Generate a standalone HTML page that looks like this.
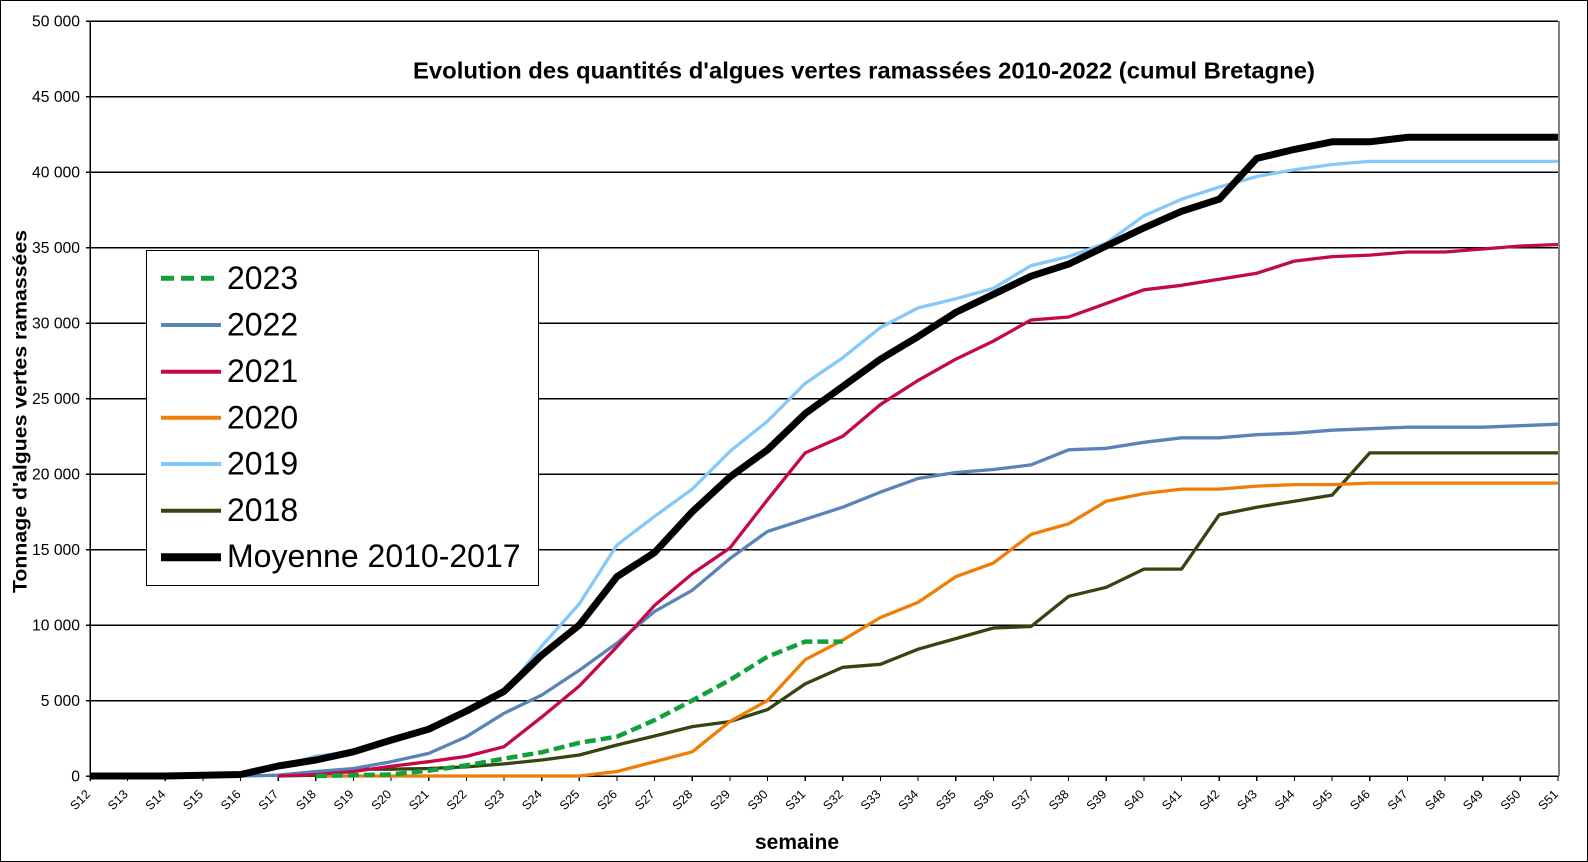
<!DOCTYPE html>
<html>
<head>
<meta charset="utf-8">
<style>
html,body{margin:0;padding:0;background:#fff;}
svg{display:block;}
text{font-family:"Liberation Sans",Arial,sans-serif;fill:#000;}
</style>
</head>
<body>
<svg width="1588" height="862" viewBox="0 0 1588 862" xmlns="http://www.w3.org/2000/svg">
<rect x="0.5" y="0.5" width="1587" height="861" fill="#fff" stroke="#000" stroke-width="1"/>

<!-- gridlines -->
<g stroke="#000" stroke-width="1.5" shape-rendering="crispEdges">
<line x1="86" y1="21" x2="1558" y2="21"/>
<line x1="86" y1="96.5" x2="1558" y2="96.5"/>
<line x1="86" y1="172" x2="1558" y2="172"/>
<line x1="86" y1="247.5" x2="1558" y2="247.5"/>
<line x1="86" y1="323" x2="1558" y2="323"/>
<line x1="86" y1="398.5" x2="1558" y2="398.5"/>
<line x1="86" y1="474" x2="1558" y2="474"/>
<line x1="86" y1="549.5" x2="1558" y2="549.5"/>
<line x1="86" y1="625" x2="1558" y2="625"/>
<line x1="86" y1="700.5" x2="1558" y2="700.5"/>
<line x1="86" y1="776" x2="1559" y2="776"/>
<line x1="90" y1="21" x2="90" y2="781"/>
</g>
<line x1="1559" y1="21" x2="1559" y2="776" stroke="#808080" stroke-width="2"/>

<!-- x ticks -->
<g stroke="#000" stroke-width="1.2" shape-rendering="crispEdges">
<line x1="127.64" y1="776" x2="127.64" y2="781"/><line x1="165.28" y1="776" x2="165.28" y2="781"/><line x1="202.92" y1="776" x2="202.92" y2="781"/><line x1="240.56" y1="776" x2="240.56" y2="781"/><line x1="278.2" y1="776" x2="278.2" y2="781"/><line x1="315.84" y1="776" x2="315.84" y2="781"/><line x1="353.48" y1="776" x2="353.48" y2="781"/><line x1="391.12" y1="776" x2="391.12" y2="781"/><line x1="428.76" y1="776" x2="428.76" y2="781"/><line x1="466.4" y1="776" x2="466.4" y2="781"/><line x1="504.04" y1="776" x2="504.04" y2="781"/><line x1="541.68" y1="776" x2="541.68" y2="781"/><line x1="579.32" y1="776" x2="579.32" y2="781"/><line x1="616.96" y1="776" x2="616.96" y2="781"/><line x1="654.6" y1="776" x2="654.6" y2="781"/><line x1="692.24" y1="776" x2="692.24" y2="781"/><line x1="729.88" y1="776" x2="729.88" y2="781"/><line x1="767.52" y1="776" x2="767.52" y2="781"/><line x1="805.16" y1="776" x2="805.16" y2="781"/><line x1="842.8" y1="776" x2="842.8" y2="781"/><line x1="880.44" y1="776" x2="880.44" y2="781"/><line x1="918.08" y1="776" x2="918.08" y2="781"/><line x1="955.72" y1="776" x2="955.72" y2="781"/><line x1="993.36" y1="776" x2="993.36" y2="781"/><line x1="1031" y1="776" x2="1031" y2="781"/><line x1="1068.64" y1="776" x2="1068.64" y2="781"/><line x1="1106.28" y1="776" x2="1106.28" y2="781"/><line x1="1143.92" y1="776" x2="1143.92" y2="781"/><line x1="1181.56" y1="776" x2="1181.56" y2="781"/><line x1="1219.2" y1="776" x2="1219.2" y2="781"/><line x1="1256.84" y1="776" x2="1256.84" y2="781"/><line x1="1294.48" y1="776" x2="1294.48" y2="781"/><line x1="1332.12" y1="776" x2="1332.12" y2="781"/><line x1="1369.76" y1="776" x2="1369.76" y2="781"/><line x1="1407.4" y1="776" x2="1407.4" y2="781"/><line x1="1445.04" y1="776" x2="1445.04" y2="781"/><line x1="1482.68" y1="776" x2="1482.68" y2="781"/><line x1="1520.32" y1="776" x2="1520.32" y2="781"/><line x1="1557.96" y1="776" x2="1557.96" y2="781"/>
</g>

<!-- y labels -->
<g font-size="15.7" text-anchor="end">
<text x="80" y="26.6">50 000</text>
<text x="80" y="102.1">45 000</text>
<text x="80" y="177.6">40 000</text>
<text x="80" y="253.1">35 000</text>
<text x="80" y="328.6">30 000</text>
<text x="80" y="404.1">25 000</text>
<text x="80" y="479.6">20 000</text>
<text x="80" y="555.1">15 000</text>
<text x="80" y="630.6">10 000</text>
<text x="80" y="706.1">5 000</text>
<text x="80" y="781.6">0</text>
</g>

<!-- x labels -->
<g font-size="12.5" text-anchor="end">
<text transform="translate(91,795) rotate(-45)">S12</text>
<text transform="translate(128.64,795) rotate(-45)">S13</text>
<text transform="translate(166.28,795) rotate(-45)">S14</text>
<text transform="translate(203.92,795) rotate(-45)">S15</text>
<text transform="translate(241.56,795) rotate(-45)">S16</text>
<text transform="translate(279.2,795) rotate(-45)">S17</text>
<text transform="translate(316.84,795) rotate(-45)">S18</text>
<text transform="translate(354.48,795) rotate(-45)">S19</text>
<text transform="translate(392.12,795) rotate(-45)">S20</text>
<text transform="translate(429.76,795) rotate(-45)">S21</text>
<text transform="translate(467.4,795) rotate(-45)">S22</text>
<text transform="translate(505.04,795) rotate(-45)">S23</text>
<text transform="translate(542.68,795) rotate(-45)">S24</text>
<text transform="translate(580.32,795) rotate(-45)">S25</text>
<text transform="translate(617.96,795) rotate(-45)">S26</text>
<text transform="translate(655.6,795) rotate(-45)">S27</text>
<text transform="translate(693.24,795) rotate(-45)">S28</text>
<text transform="translate(730.88,795) rotate(-45)">S29</text>
<text transform="translate(768.52,795) rotate(-45)">S30</text>
<text transform="translate(806.16,795) rotate(-45)">S31</text>
<text transform="translate(843.8,795) rotate(-45)">S32</text>
<text transform="translate(881.44,795) rotate(-45)">S33</text>
<text transform="translate(919.08,795) rotate(-45)">S34</text>
<text transform="translate(956.72,795) rotate(-45)">S35</text>
<text transform="translate(994.36,795) rotate(-45)">S36</text>
<text transform="translate(1032,795) rotate(-45)">S37</text>
<text transform="translate(1069.64,795) rotate(-45)">S38</text>
<text transform="translate(1107.28,795) rotate(-45)">S39</text>
<text transform="translate(1144.92,795) rotate(-45)">S40</text>
<text transform="translate(1182.56,795) rotate(-45)">S41</text>
<text transform="translate(1220.2,795) rotate(-45)">S42</text>
<text transform="translate(1257.84,795) rotate(-45)">S43</text>
<text transform="translate(1295.48,795) rotate(-45)">S44</text>
<text transform="translate(1333.12,795) rotate(-45)">S45</text>
<text transform="translate(1370.76,795) rotate(-45)">S46</text>
<text transform="translate(1408.4,795) rotate(-45)">S47</text>
<text transform="translate(1446.04,795) rotate(-45)">S48</text>
<text transform="translate(1483.68,795) rotate(-45)">S49</text>
<text transform="translate(1521.32,795) rotate(-45)">S50</text>
<text transform="translate(1558.96,795) rotate(-45)">S51</text>
</g>

<!-- series -->
<g fill="none" stroke-linejoin="round">
<!-- 2019 -->
<polyline stroke="#85c8fa" stroke-width="3.3" points="90,776 127.64,776 165.28,776 202.92,776 240.56,776 278.2,766.9 315.84,756.1 353.48,751.8 391.12,738.3 428.76,729.2 466.4,712.6 504.04,692.9 541.68,646.1 579.32,603.9 616.96,545 654.6,516.3 692.24,489.1 729.88,451.4 767.52,421.2 805.16,383.4 842.8,357.7 880.44,327.5 918.08,307.9 955.72,298.8 993.36,288.3 1031,265.6 1068.64,256.6 1106.28,243 1143.92,215.8 1181.56,199.2 1219.2,187.1 1256.84,176.5 1294.48,169.7 1332.12,164.5 1369.76,161.4 1407.4,161.4 1445.04,161.4 1482.68,161.4 1520.32,161.4 1557.96,161.4"/>
<!-- 2018 -->
<polyline stroke="#35450f" stroke-width="3.3" points="278.2,776 315.84,775.2 353.48,769.2 391.12,769.2 428.76,768.5 466.4,766.9 504.04,763.9 541.68,760 579.32,755 616.96,745 654.6,736 692.24,726.6 729.88,721.6 767.52,709.6 805.16,683.9 842.8,667.3 880.44,664.3 918.08,649.2 955.72,638.6 993.36,628 1031,626.5 1068.64,596.3 1106.28,587.3 1143.92,569.1 1181.56,569.1 1219.2,514.8 1256.84,507.2 1294.48,501.2 1332.12,495.1 1369.76,452.9 1407.4,452.9 1445.04,452.9 1482.68,452.9 1520.32,452.9 1557.96,452.9"/>
<!-- 2020 -->
<polyline stroke="#ef7d06" stroke-width="3.3" points="315.84,776 353.48,776 391.12,776 428.76,776 466.4,776 504.04,776 541.68,776 579.32,776 616.96,771.5 654.6,761.7 692.24,751.8 729.88,721.6 767.52,700.5 805.16,659.7 842.8,640.1 880.44,617.5 918.08,602.4 955.72,576.7 993.36,563.1 1031,534.4 1068.64,523.8 1106.28,501.2 1143.92,493.6 1181.56,489.1 1219.2,489.1 1256.84,486.1 1294.48,484.6 1332.12,484.6 1369.76,483.1 1407.4,483.1 1445.04,483.1 1482.68,483.1 1520.32,483.1 1557.96,483.1"/>
<!-- 2022 -->
<polyline stroke="#5a84b8" stroke-width="3.3" points="240.56,776 278.2,775.2 315.84,771.5 353.48,768.5 391.12,761.7 428.76,753.4 466.4,736.7 504.04,713.3 541.68,695.1 579.32,670.3 616.96,643.1 654.6,611.4 692.24,590.3 729.88,558.6 767.52,531.4 805.16,519.3 842.8,507.2 880.44,492.1 918.08,478.5 955.72,472.5 993.36,469.5 1031,464.9 1068.64,449.8 1106.28,448.3 1143.92,442.3 1181.56,437.8 1219.2,437.8 1256.84,434.7 1294.48,433.2 1332.12,430.2 1369.76,428.7 1407.4,427.2 1445.04,427.2 1482.68,427.2 1520.32,425.7 1557.96,424.2"/>
<!-- 2021 -->
<polyline stroke="#c4084c" stroke-width="3.3" points="278.2,776 315.84,774.5 353.48,771.5 391.12,766.2 428.76,761.7 466.4,756.4 504.04,746.7 541.68,717.1 579.32,686 616.96,646.7 654.6,605.4 692.24,573.7 729.88,548 767.52,499.7 805.16,452.9 842.8,436.3 880.44,404.5 918.08,380.4 955.72,359.2 993.36,341.1 1031,320 1068.64,317 1106.28,303.4 1143.92,289.8 1181.56,285.3 1219.2,279.2 1256.84,273.2 1294.48,261.1 1332.12,256.6 1369.76,255.1 1407.4,252 1445.04,252 1482.68,249 1520.32,246 1557.96,244.5"/>
<!-- 2023 -->
<polyline stroke="#12a03c" stroke-width="4.5" stroke-dasharray="11 5" stroke-linejoin="miter" points="315.84,776 353.48,775.2 391.12,774.5 428.76,770.7 466.4,765.4 504.04,758.6 541.68,752.3 579.32,742.8 616.96,736.7 654.6,720.1 692.24,700.5 729.88,680 767.52,656.7 805.16,641.6 842.8,641.6"/>
<!-- Moyenne -->
<polyline stroke="#000" stroke-width="7" points="90,776 127.64,776 165.28,776 202.92,775.2 240.56,774.5 278.2,766 315.84,760 353.48,751.8 391.12,740.1 428.76,729.2 466.4,711.1 504.04,691.4 541.68,655.2 579.32,625 616.96,576.7 654.6,552.5 692.24,511.8 729.88,477 767.52,449.8 805.16,413.6 842.8,386.4 880.44,359.2 918.08,336.6 955.72,312.4 993.36,294.3 1031,276.2 1068.64,264.1 1106.28,246 1143.92,227.9 1181.56,211.3 1219.2,199.2 1256.84,158.4 1294.48,149.4 1332.12,141.8 1369.76,141.8 1407.4,137.3 1445.04,137.3 1482.68,137.3 1520.32,137.3 1557.96,137.3"/>
</g>

<!-- title -->
<text x="413" y="78.3" font-size="23" font-weight="bold" textLength="902" lengthAdjust="spacingAndGlyphs">Evolution des quantités d'algues vertes ramassées 2010-2022 (cumul Bretagne)</text>

<!-- axis titles -->
<text transform="translate(26.5,593) rotate(-90)" font-size="19" font-weight="bold" textLength="363" lengthAdjust="spacingAndGlyphs">Tonnage d'algues vertes ramassées</text>
<text x="755" y="849" font-size="21" font-weight="bold" textLength="84" lengthAdjust="spacingAndGlyphs">semaine</text>

<!-- legend -->
<rect x="146.5" y="250.5" width="392" height="335" fill="#fff" stroke="#000" stroke-width="1"/>
<g stroke-width="4" fill="none">
<line x1="161" y1="278.3" x2="221" y2="278.3" stroke="#12a03c" stroke-width="5" stroke-dasharray="13 7"/>
<line x1="161" y1="325" x2="221" y2="325" stroke="#5a84b8"/>
<line x1="161" y1="371.7" x2="221" y2="371.7" stroke="#c4084c"/>
<line x1="161" y1="417.7" x2="221" y2="417.7" stroke="#ef7d06"/>
<line x1="161" y1="464" x2="221" y2="464" stroke="#85c8fa"/>
<line x1="161" y1="510.7" x2="221" y2="510.7" stroke="#35450f"/>
<line x1="161" y1="557.3" x2="221" y2="557.3" stroke="#000" stroke-width="8"/>
</g>
<g font-size="32">
<text x="227" y="289">2023</text>
<text x="227" y="335.5">2022</text>
<text x="227" y="382">2021</text>
<text x="227" y="428.3">2020</text>
<text x="227" y="474.7">2019</text>
<text x="227" y="521.2">2018</text>
<text x="227" y="567">Moyenne 2010-2017</text>
</g>
</svg>
</body>
</html>
